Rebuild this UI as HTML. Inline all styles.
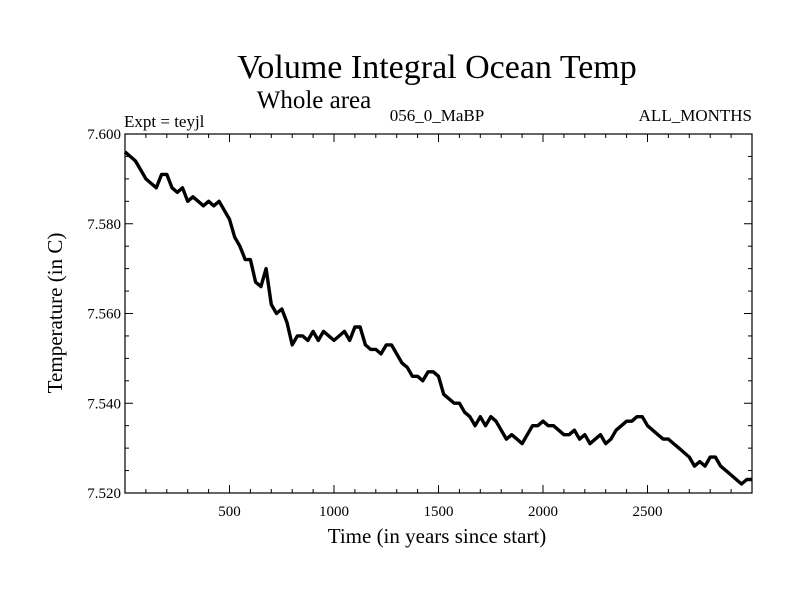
<!DOCTYPE html>
<html><head><meta charset="utf-8"><style>
body{margin:0;background:#fff}
svg text{font-family:"Liberation Serif",serif;fill:#000}
</style></head><body>
<svg width="800" height="600" xmlns="http://www.w3.org/2000/svg">
<text x="437" y="78" font-size="34" text-anchor="middle">Volume Integral Ocean Temp</text>
<text x="314" y="108" font-size="25" text-anchor="middle">Whole area</text>
<text x="124" y="127" font-size="17">Expt = teyjl</text>
<text x="437" y="121" font-size="17" text-anchor="middle">056_0_MaBP</text>
<text x="752" y="121" font-size="17" text-anchor="end">ALL_MONTHS</text>
<text x="437" y="543" font-size="21" text-anchor="middle">Time (in years since start)</text>
<text transform="translate(62,313) rotate(-90)" font-size="21" text-anchor="middle">Temperature (in C)</text>
<g id="axes"></g>
<path id="series" fill="none" stroke="#000" stroke-width="3.4" stroke-linejoin="round"/>
<rect x="125" y="134" width="627" height="359" fill="none" stroke="#000" stroke-width="1.2"/>
</svg>
<script>
const years=[0,25,50,75,100,125,150,175,200,225,250,275,300,325,350,375,400,425,450,475,500,525,550,575,600,625,650,675,700,725,750,775,800,825,850,875,900,925,950,975,1000,1025,1050,1075,1100,1125,1150,1175,1200,1225,1250,1275,1300,1325,1350,1375,1400,1425,1450,1475,1500,1525,1550,1575,1600,1625,1650,1675,1700,1725,1750,1775,1800,1825,1850,1875,1900,1925,1950,1975,2000,2025,2050,2075,2100,2125,2150,2175,2200,2225,2250,2275,2300,2325,2350,2375,2400,2425,2450,2475,2500,2525,2550,2575,2600,2625,2650,2675,2700,2725,2750,2775,2800,2825,2850,2875,2900,2925,2950,2975,3000];
const temps=[7.596,7.595,7.594,7.592,7.590,7.589,7.588,7.591,7.591,7.588,7.587,7.588,7.585,7.586,7.585,7.584,7.585,7.584,7.585,7.583,7.581,7.577,7.575,7.572,7.572,7.567,7.566,7.570,7.562,7.560,7.561,7.558,7.553,7.555,7.555,7.554,7.556,7.554,7.556,7.555,7.554,7.555,7.556,7.554,7.557,7.557,7.553,7.552,7.552,7.551,7.553,7.553,7.551,7.549,7.548,7.546,7.546,7.545,7.547,7.547,7.546,7.542,7.541,7.540,7.540,7.538,7.537,7.535,7.537,7.535,7.537,7.536,7.534,7.532,7.533,7.532,7.531,7.533,7.535,7.535,7.536,7.535,7.535,7.534,7.533,7.533,7.534,7.532,7.533,7.531,7.532,7.533,7.531,7.532,7.534,7.535,7.536,7.536,7.537,7.537,7.535,7.534,7.533,7.532,7.532,7.531,7.530,7.529,7.528,7.526,7.527,7.526,7.528,7.528,7.526,7.525,7.524,7.523,7.522,7.523,7.523];
const xTicks=[500,1000,1500,2000,2500];
const yTicks=[7.52,7.54,7.56,7.58,7.60];
const X0=125,X1=752,Y0=493,Y1=134,XMIN=0,XMAX=3000,YMIN=7.52,YMAX=7.60;
const sx=v=>X0+(v-XMIN)/(XMAX-XMIN)*(X1-X0);
const sy=v=>Y0-(v-YMIN)/(YMAX-YMIN)*(Y0-Y1);
const NS="http://www.w3.org/2000/svg";
const axes=document.getElementById('axes');
function ln(x1,y1,x2,y2,name){const l=document.createElementNS(NS,'line');l.setAttribute('x1',x1);l.setAttribute('y1',y1);l.setAttribute('x2',x2);l.setAttribute('y2',y2);l.setAttribute('stroke','#000');l.setAttribute('stroke-width','1');


axes.appendChild(l);}
function tx(x,y,s,anchor,name){const t=document.createElementNS(NS,'text');t.setAttribute('x',x);t.setAttribute('y',y);t.setAttribute('font-size','15');t.setAttribute('text-anchor',anchor);t.textContent=s;


axes.appendChild(t);}
for(let v=100;v<XMAX;v+=100){const x=sx(v);const major=v%500===0;const L=major?8:4;
ln(x,Y0,x,Y0-L,'x-tick');ln(x,Y1,x,Y1+L,'x-tick-top');}
for(let k=1;k<16;k++){const v=YMIN+k*0.005;const y=sy(v);const major=k%4===0;const L=major?8:4;
ln(X0,y,X0+L,y,'y-tick');ln(X1,y,X1-L,y,'y-tick-right');}
xTicks.forEach(v=>tx(sx(v),Y0+23,String(v),'middle','x-tick-label'));
yTicks.forEach(v=>tx(X0-4,sy(v)+5,v.toFixed(3),'end','y-tick-label'));
let d='';years.forEach((y,i)=>{d+=(i?'L':'M')+sx(y).toFixed(1)+' '+sy(temps[i]).toFixed(1);});
document.getElementById('series').setAttribute('d',d);
</script>
</body></html>
